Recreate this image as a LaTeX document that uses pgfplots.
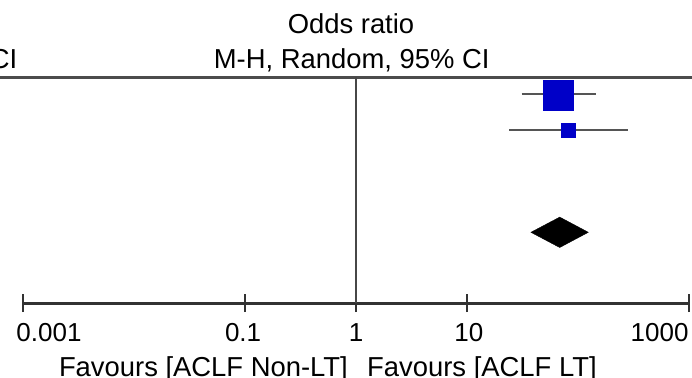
\documentclass[border=0pt]{standalone}
\usepackage{pgfplots}
\pgfplotsset{compat=1.18}
\usepackage{fontspec}
\setmainfont{Liberation Sans}

\definecolor{markblue}{RGB}{0,0,200}
\definecolor{cigray}{RGB}{85,85,85}
\definecolor{axisgray}{RGB}{50,50,50}

\newcommand{\lbl}{\fontsize{27.4bp}{32bp}\selectfont}
\newcommand{\tlbl}{\fontsize{26bp}{31bp}\selectfont}

\begin{document}
\begin{tikzpicture}
  % frame of the panel, origin at the top-left corner, y downwards negative
  \useasboundingbox (0,0) rectangle (692bp,-378bp);
  \clip (0,0) rectangle (692bp,-378bp);

  % column headers
  \node[anchor=base, inner sep=0] at (351bp,-33.3bp) {\lbl Odds ratio};
  \node[anchor=base, inner sep=0] at (351.7bp,-68.3bp) {\lbl M-H, Random, 95\% CI};
  % tail of the neighbouring column (cut by the panel edge)
  \node[anchor=base east, inner sep=0] at (17.4bp,-68.3bp) {\lbl 95\% CI};
  \node[anchor=base east, inner sep=0, text=black!35] at (2.2bp,-106.4bp) {\lbl 66.3 [31.2, 146.0]};
  \node[anchor=base east, inner sep=0, text=black!35] at (2.2bp,-139.7bp) {\lbl 82.4 [24.1, 281.8]};

  % header rule
  \draw[line width=2.6bp, color=black!70] (0,-77.5bp) -- (692bp,-77.5bp);

  \begin{axis}[
      at={(23.3bp,-303bp)}, anchor=south west,
      scale only axis, width=665.4bp, height=226bp,
      xmode=log, xmin=0.001, xmax=1000, ymin=0, ymax=226,
      enlargelimits=false, clip=false,
      axis x line*=bottom, axis y line=none,
      axis line style={line width=3bp, color=axisgray},
      xtick={0.001,0.1,1,10,1000}, xticklabels={},
      minor xtick={}, ytick=\empty,
      tick align=center, major tick length=18bp,
      every tick/.style={line width=2bp, color=axisgray},
    ]
    % line of no effect
    \addplot[line width=2bp, color=axisgray!90] coordinates {(1,0) (1,226)};

    % study confidence intervals
    \addplot[line width=2.3bp, color=cigray] coordinates {(31.2,209) (146.0,209)};
    \addplot[line width=2.3bp, color=cigray] coordinates {(24.1,173) (281.8,173)};

    % study estimates, box size by weight
    \addplot[only marks, mark=square*, mark size=15bp, color=markblue] coordinates {(66.3,208)};
    \addplot[only marks, mark=square*, mark size=6.8bp, color=markblue] coordinates {(82.4,173)};

    % pooled estimate
    \addplot[fill=black, draw=black] coordinates {(37.8,70.7) (68.7,85.9) (124.4,70.7) (68.7,55.5)} -- cycle;

    % tick labels
    \node[anchor=base west, inner sep=0] at (axis cs:0.001,-38.7) [xshift=-7bp] {\tlbl 0.001};
    \node[anchor=base, inner sep=0] at (axis cs:0.1,-38.7) [xshift=-2bp] {\tlbl 0.1};
    \node[anchor=base, inner sep=0] at (axis cs:1,-38.7) {\tlbl 1};
    \node[anchor=base, inner sep=0] at (axis cs:10,-38.7) [xshift=2bp] {\tlbl 10};
    \node[anchor=base east, inner sep=0] at (axis cs:1000,-38.7) {\tlbl 1000};

    % direction labels
    \node[anchor=base east, inner sep=0] at (axis cs:1,-73) [xshift=-8bp] {\lbl Favours [ACLF Non-LT]};
    \node[anchor=base west, inner sep=0] at (axis cs:1,-73) [xshift=11bp] {\lbl Favours [ACLF LT]};
  \end{axis}
\end{tikzpicture}
\end{document}
